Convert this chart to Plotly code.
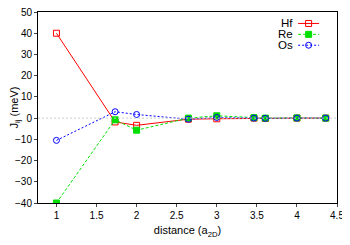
import plotly.graph_objects as go

# neighbour distances in units of a_2D
distance = [1.0, 1.732, 2.0, 2.646, 3.0, 3.464, 3.606, 4.0, 4.359]

# exchange constants J_ij (meV)
j_hf = [40.0, -1.8, -3.4, -0.5, -0.3, 0.0, -0.2, 0.0, 0.0]
j_re = [-40.0, -0.8, -5.7, 0.0, 1.1, 0.2, 0.0, 0.1, 0.0]
j_os = [-10.5, 3.0, 1.7, -0.5, 0.3, 0.0, -0.1, 0.0, 0.0]

names = ["Hf", "Re", "Os"]
colors = ["#ff0000", "#00e000", "#0000ff"]
dashes = ["solid", "3px,2px", "2px,2px"]
symbols = ["square-open", "square", "circle-open"]

fig = go.Figure()

fig.add_hline(y=0, line=dict(color="#cccccc", width=1, dash="2px,2px"))

for ys, name, c, d, s in zip([j_hf, j_re, j_os], names, colors, dashes, symbols):
    fig.add_trace(go.Scatter(
        x=distance, y=ys, name=name, mode="lines+markers",
        line=dict(color=c, width=1, dash=d),
        marker=dict(symbol=s, size=6, color=c, line=dict(color=c, width=1)),
        showlegend=False,
    ))

# gnuplot style key: text on the left, sample on the right
for i, (name, c, d, s) in enumerate(zip(names, colors, dashes, symbols)):
    yk = 0.94 - i * 0.057
    fig.add_trace(go.Scatter(
        x=[0.87, 0.905, 0.94], y=[yk, yk, yk], xaxis="x2", yaxis="y2",
        mode="lines", line=dict(color=c, width=1, dash=d),
        hoverinfo="skip", showlegend=False,
    ))
    fig.add_trace(go.Scatter(
        x=[0.905], y=[yk], xaxis="x2", yaxis="y2", mode="markers",
        marker=dict(symbol=s, size=6, color=c, line=dict(color=c, width=1)),
        hoverinfo="skip", showlegend=False,
    ))
    fig.add_annotation(
        x=0.86, y=yk, xref="x2 domain", yref="y2 domain", text=name,
        showarrow=False, xanchor="right", yanchor="middle",
        font=dict(size=11.5, color="black"),
    )

# the page body adds an 8px margin, so the figure is shrunk to fit the window
fig.update_layout(
    width=342, height=237,
    margin=dict(l=30, r=13, t=4, b=42),
    paper_bgcolor="white", plot_bgcolor="white",
    font=dict(family="Liberation Sans, Arial, sans-serif", size=10, color="black"),
    xaxis=dict(
        range=[0.77, 4.5], tickvals=[1, 1.5, 2, 2.5, 3, 3.5, 4, 4.5],
        ticktext=["1", "1.5", "2", "2.5", "3", "3.5", "4", "4.5"],
        showgrid=False, zeroline=False, showline=True, mirror=True,
        linecolor="black", linewidth=1, ticks="outside", ticklen=3,
        automargin=False, ticklabeloverflow="allow",
        title=dict(text="distance (a<sub>2D</sub>)", font=dict(size=11), standoff=6),
    ),
    yaxis=dict(
        range=[-40, 50], dtick=10,
        showgrid=False, zeroline=False, showline=True, mirror=True,
        linecolor="black", linewidth=1, ticks="outside", ticklen=3,
        automargin=False, ticklabeloverflow="allow",
        title=dict(text="J<sub>ij</sub> (meV)", font=dict(size=11), standoff=2),
    ),
    xaxis2=dict(range=[0, 1], overlaying="x", visible=False),
    yaxis2=dict(range=[0, 1], overlaying="y", visible=False),
)

fig.write_html("out.html")
